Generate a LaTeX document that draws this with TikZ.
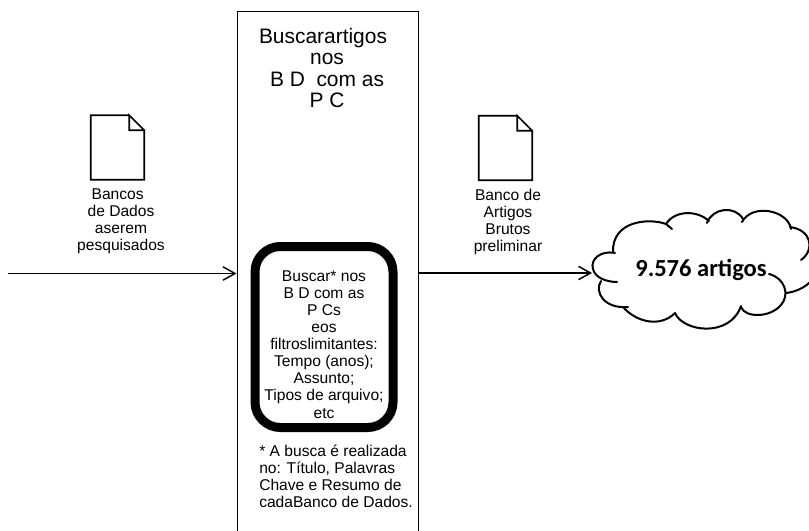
\documentclass[tikz,border=0pt]{standalone}
\usepackage{fontspec}
\setmainfont{Liberation Sans}
\newfontfamily\nuvemfont{Carlito}
\usetikzlibrary{arrows.meta}
\tikzset{
  texto/.style={align=center,inner sep=0pt,font=\fontsize{11.7}{12.8}\selectfont},
  pagina/.style={minimum width=39.75pt,minimum height=48pt,inner sep=0pt},
  folha/.style={line width=1.2pt,line join=miter},
  contorno/.style={line width=1.5pt,line cap=round},
  seta/.style={line width=1.1pt,-{Straight Barb[length=9pt,width=10pt,line width=1.1pt]}}
}
\begin{document}
\begin{tikzpicture}[x=.75pt,y=-.75pt]
  \clip (0,0) rectangle (809,531);
  \fill [white] (0,0) rectangle (809,531);
  % caixa principal
  \node [draw,line width=1.1pt,minimum width=136.1pt,minimum height=424pt,inner sep=0pt] (busca) at (328,294) {};
  \node [draw,line width=6.75pt,rounded corners=19pt,minimum width=103.5pt,minimum height=135.75pt,inner sep=0pt] (filtros) at (324,337) {};
  \node [align=center,inner sep=0pt,font=\fontsize{15.7}{15.9}\selectfont] (titulo) at (327,68) {Buscarartigos\hspace*{6pt}\\nos\\B D\ \ com as\\P C};
  \node [texto] (filtrosTxt) at (324,344.5) {Buscar* nos\\B D com as\\P Cs\hspace*{3pt}\\eos\hspace*{5pt}\\filtroslimitantes:\\Tempo (anos);\\Assunto;\\Tipos de arquivo;\\etc};
  \node [texto,align=left,anchor=north west] (nota) at (259,445) {* A busca é realizada\\no: Título, Palavras\\Chave e Resumo de\\cadaBanco de Dados.};
  % documentos
  \node [pagina] (docA) at (117.5,147.5) {};
  \draw [folha] (docA.north east) ++(-15,0) -- (docA.north west) -- (docA.south west) -- (docA.south east) -- ++(0,-49.5) -- ++(-15,0) -- ++(0,-15) -- ++(15,15);
  \node [texto] (docAtxt) at (121,221) {Bancos\hspace*{5pt}\\de Dados\hspace*{3.5pt}\\aserem\hspace*{8pt}\\pesquisados};
  \node [pagina] (docB) at (505.5,148) {};
  \draw [folha] (docB.north east) ++(-15,0) -- (docB.north west) -- (docB.south west) -- (docB.south east) -- ++(0,-49.5) -- ++(-15,0) -- ++(0,-15) -- ++(15,15);
  \node [texto] (docBtxt) at (508,222) {Banco de\\Artigos\\Brutos\\preliminar};
  % nuvem
  \draw [contorno] (615,253) .. controls (600,250) and (590,260) .. (593,269) .. controls (595,278) and (607,282) .. (617,282);
  \draw [contorno] (601,281) .. controls (594,292) and (604,309) .. (628,307);
  \draw [contorno] (623,307) .. controls (636,322) and (660,328) .. (675,313);
  \draw [contorno] (675,313) .. controls (683,332) and (730,338) .. (741,306);
  \draw [contorno] (741,307) .. controls (745,318) and (770,318) .. (781,305) .. controls (790,295) and (785,278) .. (769,274);
  \draw [contorno] (786,293) .. controls (795,292) and (805,288) .. (812,280);
  \draw [contorno] (801,260) .. controls (815,250) and (812,230) .. (790,227);
  \draw [contorno] (791,229) .. controls (788,210) and (752,203) .. (742,222);
  \draw [contorno] (743,219) .. controls (735,205) and (712,208) .. (707,223);
  \draw [contorno] (709,221) .. controls (697,210) and (675,210) .. (666,224) -- (672,229);
  \draw [contorno] (666,224) .. controls (650,218) and (612,220) .. (613,252);
  \node [inner sep=0pt,font=\nuvemfont\bfseries\fontsize{18.4}{20}\selectfont] (nuvem) at (701,270) {9.576 artigos};
  % setas
  \coordinate (entrada) at (8,273.5);
  \coordinate (saida) at (592,273);
  \draw [seta] (entrada) -- (entrada -| busca.west);
  \draw [seta] (saida -| busca.east) -- (saida);
\end{tikzpicture}
\end{document}
